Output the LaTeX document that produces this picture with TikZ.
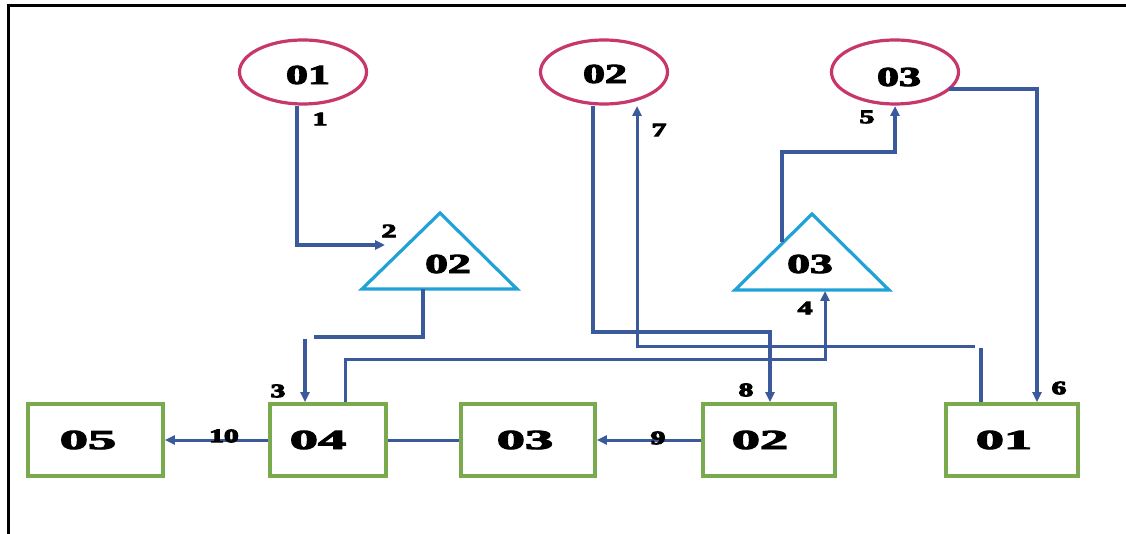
\documentclass[tikz,border=0pt]{standalone}
\usepackage{fontspec}
\setmainfont{Liberation Serif}
\usetikzlibrary{shapes.geometric,arrows.meta}
\definecolor{ln}{RGB}{59,90,155}
\definecolor{pk}{RGB}{200,55,108}
\definecolor{cy}{RGB}{32,162,215}
\definecolor{gr}{RGB}{122,170,78}
\newcommand{\widetxt}[2]{\scalebox{#1}[1]{\special{pdf:literal direct 2 Tr 0.9 w}#2\special{pdf:literal direct 0 Tr}}}
\tikzset{
  ell/.style={ellipse, draw=pk, line width=3.2pt, minimum width=127pt, minimum height=64pt, inner sep=0pt},
  box/.style={rectangle, draw=gr, line width=3.8pt, minimum height=72pt, inner sep=0pt},
  tri/.style={draw=cy, line width=3.2pt, line join=miter},
  big/.style={font=\fontsize{27.5}{27.5}\selectfont\bfseries, inner sep=0pt},
  lbl/.style={font=\fontsize{19}{19}\selectfont\bfseries, inner sep=0pt},
  con/.style={draw=ln, line width=3.5pt},
  thn/.style={draw=ln, line width=3pt},
  arr/.style={-{Triangle[length=10pt,width=9pt]}},
}
\begin{document}
\begin{tikzpicture}[x=1pt,y=-1pt]
\useasboundingbox (0,0) rectangle (1126,534);
% frame
\draw[line width=3pt, line cap=rect] (8,534) -- (8,6) -- (1126,6);
% ellipses
\node[ell] (e1) at (303,72) {};
\node[ell] (e2) at (604,72) {};
\node[ell] (e3) at (895,72) {};
\node[big] (e1t) at (308,75) {\widetxt{1.6}{01}};
\node[big] (e2t) at (605,74) {\widetxt{1.6}{02}};
\node[big] (e3t) at (899,77) {\widetxt{1.6}{03}};
% triangles
\draw[tri] (440,213) -- (517,289) -- (362,289) -- cycle;
\draw[tri] (812,214) -- (889,290) -- (735,290) -- cycle;
\node[big] (t2) at (448,264) {\widetxt{1.66}{02}};
\node[big] (t3) at (810,264) {\widetxt{1.66}{03}};
% boxes
\node[box, minimum width=135pt] (b5) at (95.5,440) {};
\node[box, minimum width=116pt] (b4) at (328,440) {};
\node[box, minimum width=134pt] (b3) at (528,440) {};
\node[box, minimum width=132pt] (b2) at (769,440) {};
\node[box, minimum width=132pt] (b1) at (1012,440) {};
\node[big] (b5t) at (88,440) {\widetxt{2.05}{05}};
\node[big] (b4t) at (318,440) {\widetxt{2.05}{04}};
\node[big] (b3t) at (525,440) {\widetxt{2.05}{03}};
\node[big] (b2t) at (760,440) {\widetxt{2.05}{02}};
\node[big] (b1t) at (1004,440) {\widetxt{2.05}{01}};
% helper coordinates
\coordinate (t2in) at (385,245);
\coordinate (t2bot) at (423,289);
\coordinate (g3) at (314,337);
\coordinate (a3s) at (305,339);
\coordinate (t3bot) at (825,291);
\coordinate (t3side) at (782,242);
\coordinate (e3in) at (895,106);
\coordinate (e2in) at (637,106);
\coordinate (g7) at (975,346);
\coordinate (b1up) at (981,348);
\coordinate (e3out) at (949,89);
% connectors
\draw[con, arr] ([xshift=-6pt]e1.south) |- (t2in);
\draw[con] (t2bot) |- (g3);
\draw[con, arr] (a3s) -- (a3s |- b4.north);
\draw[thn, arr] ([xshift=17pt]b4.north) |- (825,359) -- (t3bot);
\draw[con, arr] (t3side) |- (895,152) -- (e3in);
\draw[con, arr] (e3out) -| ([xshift=25pt]b1.north);
\draw[con] ([xshift=-31pt]b1.north) -- (b1up);
\draw[thn, arr] (g7) -| (e2in);
\draw[con, arr] ([xshift=-11pt]e2.south) |- (770,332) -- ([xshift=1pt]b2.north);
\draw[thn, arr] (b2.west) -- (b3.east);
\draw[thn] (b4.east) -- (b3.west);
\draw[thn, arr] (b4.west) -- (b5.east);
% labels
\node[lbl] at (320,119) {\widetxt{1.55}{1}};
\node[lbl] at (389,231) {\widetxt{1.55}{2}};
\node[lbl] at (278,391) {\widetxt{1.55}{3}};
\node[lbl] at (805,308) {\widetxt{1.55}{4}};
\node[lbl] at (867,117) {\widetxt{1.55}{5}};
\node[lbl] at (1059,388) {\widetxt{1.55}{6}};
\node[lbl] at (659,130) {\widetxt{1.55}{7}};
\node[lbl] at (746,390) {\widetxt{1.55}{8}};
\node[lbl] at (658,438) {\widetxt{1.55}{9}};
\node[lbl] at (224,436) {\widetxt{1.55}{10}};
\end{tikzpicture}
\end{document}
